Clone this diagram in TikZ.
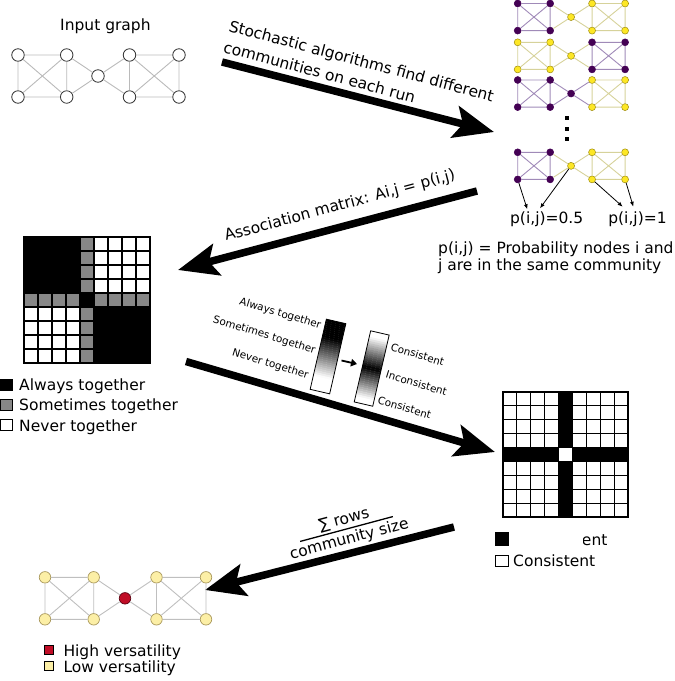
\documentclass[tikz,border=0pt]{standalone}
\usepackage{fontspec}
\setmainfont{DejaVu Sans}
\usetikzlibrary{arrows.meta}
\definecolor{vpurple}{HTML}{440154}
\definecolor{vyellow}{HTML}{FDE725}
\definecolor{yout}{HTML}{9C8A10}
\definecolor{pedge}{HTML}{A08AB8}
\definecolor{yedge}{HTML}{D6D29A}
\definecolor{lowv}{HTML}{FCEFA6}
\definecolor{lowout}{HTML}{A8975A}
\definecolor{highv}{HTML}{C00D26}
\definecolor{highout}{HTML}{5A0010}
\newcommand{\commgraph}[4]{%
  \node[#2node] (#1a) at (0,0) {};
  \node[#2node] (#1b) at (48.7,0) {};
  \node[#2node] (#1c) at (0,42) {};
  \node[#2node] (#1d) at (48.7,42) {};
  \node[#3node] (#1e) at (80,21) {};
  \node[#4node] (#1f) at (111.5,0) {};
  \node[#4node] (#1g) at (161,0) {};
  \node[#4node] (#1h) at (111.5,42) {};
  \node[#4node] (#1i) at (161,42) {};
  \draw[#2e] (#1a)--(#1b) (#1a)--(#1c) (#1b)--(#1d) (#1c)--(#1d) (#1a)--(#1d) (#1b)--(#1c);
  \draw[#3e] (#1b)--(#1e) (#1d)--(#1e) (#1e)--(#1f) (#1e)--(#1h);
  \draw[#4e] (#1f)--(#1g) (#1f)--(#1h) (#1g)--(#1i) (#1h)--(#1i) (#1f)--(#1i) (#1g)--(#1h);
}
\begin{document}
\begin{tikzpicture}[x=1pt,y=-1pt,
  every node/.style={font=\fontsize{15.5}{18}\selectfont, inner sep=0pt},
  small/.style={font=\fontsize{10.4}{12}\selectfont},
  wnode/.style={circle, draw=black!80, fill=white, line width=0.8pt, minimum size=12.5pt},
  we/.style={draw=black!27, line width=0.9pt},
  pnode/.style={circle, draw=vpurple, fill=vpurple, line width=0.5pt, minimum size=7pt},
  ynode/.style={circle, draw=yout, fill=vyellow, line width=0.5pt, minimum size=7pt},
  pe/.style={draw=pedge, line width=0.9pt},
  ye/.style={draw=yedge, line width=0.9pt},
  lnode/.style={circle, draw=lowout, fill=lowv, line width=0.7pt, minimum size=11.5pt},
  hnode/.style={circle, draw=highout, fill=highv, line width=0.7pt, minimum size=11.5pt},
  le/.style={draw=black!25, line width=0.9pt},
  he/.style={le},
  bigarrow/.style={line width=7.5pt, -{Stealth[length=40pt,width=32pt,inset=8pt]}},
  thinarrow/.style={line width=0.8pt, -{Latex[length=5pt,width=4pt]}},
  legsq/.style={draw=black, line width=0.9pt}
]
\useasboundingbox (0,0) rectangle (675,681);

% ---------- input graph ----------
\node[anchor=base west] (inlabel) at (60,30) {Input graph};
\begin{scope}[shift={(18,55)}]
  \commgraph{in}{w}{w}{w}
\end{scope}

% ---------- community runs ----------
\begin{scope}[shift={(517.7,3.5)}, xscale=0.667, yscale=0.645]
  \commgraph{ra}{p}{y}{y}
\end{scope}
\begin{scope}[shift={(517.7,42.3)}, xscale=0.667, yscale=0.645]
  \commgraph{rb}{y}{y}{p}
\end{scope}
\begin{scope}[shift={(517.7,80)}, xscale=0.667, yscale=0.645]
  \commgraph{rc}{p}{p}{y}
\end{scope}
\begin{scope}[shift={(517.7,152.3)}, xscale=0.667, yscale=0.645]
  \commgraph{rd}{p}{y}{y}
\end{scope}
\foreach \yy in {118,128.5,139} { \fill (564.7,\yy-2) rectangle ++(4,4); }

\node[anchor=base] (p05) at (546.7,223) {p(i,j)=0.5};
\node[anchor=base] (p1) at (637.5,223) {p(i,j)=1};
\coordinate (t1) at (527.3,209.3);
\coordinate (t2) at (540,208.3);
\coordinate (t3) at (622.7,206.7);
\coordinate (t4) at (633.3,206.7);
\draw[thinarrow] (rdc) -- (t1);
\draw[thinarrow] (rde) -- (t2);
\draw[thinarrow] (rdh) -- (t3);
\draw[thinarrow] (rdi) -- (t4);
\node[anchor=base west] (def1) at (438,253) {p(i,j) = Probability nodes i and};
\node[anchor=base west] (def2) at (438,270) {j are in the same community};

% ---------- arrow 1 ----------
\coordinate (a1s) at (222,62);
\coordinate (a1e) at (494,132);
\draw[bigarrow] (a1s) -- (a1e);
\node[rotate=-15, anchor=base west] (a1t1) at (228,31) {Stochastic algorithms find different};
\node[rotate=-15, anchor=base west] (a1t2) at (222.5,52) {communities on each run};

% ---------- arrow 2 ----------
\coordinate (a2s) at (477,191);
\coordinate (a2e) at (178,270);
\draw[bigarrow] (a2s) -- (a2e);
\node[rotate=15, anchor=base west] (a2t) at (226,241) {Association matrix: Ai,j = p(i,j)};

% ---------- association matrix ----------
\foreach \r in {0,...,8}{\foreach \c in {0,...,8}{
  \pgfmathtruncatemacro\cellk{(\r==4 && \c==4) ? 100 : ((\r==4 || \c==4) ? 47 : (((\r<4)==(\c<4)) ? 100 : 0))}
  \filldraw[fill=black!\cellk, draw=black, line width=1.1pt] ({24+14*\c},{237+14*\r}) rectangle ++(14,14);
}}
\draw[line width=1.6pt] (24,237) rectangle (150,363);

\draw[legsq, fill=black] (0.7,379.5) rectangle (12.5,390.7);
\draw[legsq, fill=black!47] (0.7,399.5) rectangle (12.5,410.7);
\draw[legsq, fill=white] (0.7,419.5) rectangle (12.5,430.7);
\node[anchor=base west] (lg1) at (19,390.7) {Always together};
\node[anchor=base west] (lg2) at (19,410.9) {Sometimes together};
\node[anchor=base west] (lg3) at (19,431) {Never together};

% ---------- arrow 3 ----------
\coordinate (a3s) at (186,361.5);
\coordinate (a3e) at (495,452);
\draw[bigarrow] (a3s) -- (a3e);

% ---------- gradient bars ----------
\begin{scope}[shift={(328,356.5)}, rotate=-13]
  \foreach \i in {0,...,35} {
    \pgfmathsetmacro\tval{(\i+0.5)/36}
    \pgfmathsetmacro\kval{max(0,min(100,(0.8-\tval)/0.55*100))}
    \fill[black!\kval] (-10,{-36+2*\i}) rectangle (10,{min(36,-33.7+2*\i)});
  }
  \draw[line width=0.8pt] (-10,-36) rectangle (10,36);
\end{scope}
\begin{scope}[shift={(371.7,368.5)}, rotate=-13]
  \foreach \i in {0,...,35} {
    \pgfmathsetmacro\tval{(\i+0.5)/36}
    \pgfmathsetmacro\kval{max(0,min(100,(1-abs(\tval-0.5)/0.42)*100))}
    \fill[black!\kval] (-9.5,{-36.5+2.03*\i}) rectangle (9.5,{min(36.5,-34.2+2.03*\i)});
  }
  \draw[line width=0.8pt] (-9.5,-36.5) rectangle (9.5,36.5);
\end{scope}
\coordinate (sa1) at (341.5,360.5);
\coordinate (sa2) at (357,364);
\draw[line width=1.8pt, -{Triangle[length=6pt,width=7.5pt]}] (sa1) -- (sa2);

\node[small, rotate=-17, anchor=base east] (bl1) at (320,329) {Always together};
\node[small, rotate=-17, anchor=base east] (bl2) at (314.5,353.5) {Sometimes together};
\node[small, rotate=-17, anchor=base east] (bl3) at (307.5,378.5) {Never together};
\node[small, rotate=-17, anchor=base west] (br1) at (390,350) {Consistent};
\node[small, rotate=-17, anchor=base west] (br2) at (385,377.5) {Inconsistent};
\node[small, rotate=-17, anchor=base west] (br3) at (377,403) {Consistent};

% ---------- consistency matrix ----------
\foreach \r in {0,...,8}{\foreach \c in {0,...,8}{
  \pgfmathtruncatemacro\cellk{((\r==4) != (\c==4)) ? 100 : 0}
  \filldraw[fill=black!\cellk, draw=black, line width=1.1pt] ({503+13.9*\c},{392+13.9*\r}) rectangle ++(13.9,13.9);
}}
\draw[line width=1.6pt] (503,392) rectangle (628.1,517.1);

\node[anchor=base west] (rl1) at (513,545) {Inconsistent};
\fill[white] (509.5,528) rectangle (582.5,550);
\draw[legsq, fill=black] (495.5,532) rectangle (508,545);
\draw[legsq, fill=white] (495.5,555) rectangle (508,566.7);
\node[anchor=base west] (rl2) at (513,566.7) {Consistent};

% ---------- arrow 4 ----------
\coordinate (a4s) at (454,527);
\coordinate (a4e) at (205,590);
\draw[bigarrow] (a4s) -- (a4e);
\begin{scope}[shift={(346.5,529)}, rotate=15]
  \node[rotate=15, anchor=base] (frn) at (0,-5) {∑ rows};
  \coordinate (fl1) at (-48,0);
  \coordinate (fl2) at (48,0);
  \draw[line width=1.3pt] (fl1) -- (fl2);
  \node[rotate=15, anchor=base] (frd) at (0,15) {community size};
\end{scope}

% ---------- versatility graph ----------
\begin{scope}[shift={(45,577.3)}]
  \commgraph{vg}{l}{h}{l}
\end{scope}
\draw[legsq, fill=highv] (44.5,645.5) rectangle (53.5,654.5);
\draw[legsq, fill=lowv] (44.5,661.5) rectangle (53.5,670.5);
\node[anchor=base west] (vl1) at (63.3,656.5) {High versatility};
\node[anchor=base west] (vl2) at (63.3,672.3) {Low versatility};
\end{tikzpicture}
\end{document}
